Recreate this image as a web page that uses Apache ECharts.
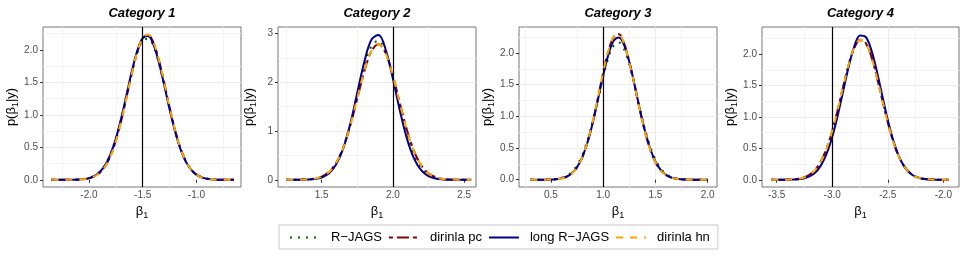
<!DOCTYPE html>
<html><head><meta charset="utf-8">
<script src="https://cdn.jsdelivr.net/npm/echarts@6/dist/echarts.min.js"></script>
<style>html,body{margin:0;padding:0;background:#fff}#c{width:969px;height:259px}</style>
</head><body><div id="c"></div>
<script>
// ---------- data ----------
const categories = ['Category 1', 'Category 2', 'Category 3', 'Category 4'];
const seriesNames = ['R\u2212JAGS', 'dirinla pc', 'long R\u2212JAGS', 'dirinla hn'];
const trueValues = [-1.5, 2.0, 1.0, -3.0];

const xTicks1 = [-2.0, -1.5, -1.0];
const xTicks2 = [1.5, 2.0, 2.5];
const xTicks3 = [0.5, 1.0, 1.5, 2.0];
const xTicks4 = [-3.5, -3.0, -2.5, -2.0];
const yTicks1 = [0, 0.5, 1.0, 1.5, 2.0];
const yTicks2 = [0, 1, 2, 3];
const yTicks3 = [0, 0.5, 1.0, 1.5, 2.0];
const yTicks4 = [0, 0.5, 1.0, 1.5, 2.0];

// Category 1
const x1 = [-2.35,-2.30,-2.25,-2.20,-2.15,-2.10,-2.05,-2.00,-1.95,-1.90,-1.85,-1.80,-1.75,-1.70,-1.65,-1.60,-1.55,-1.50,-1.45,-1.40,-1.35,-1.30,-1.25,-1.20,-1.15,-1.10,-1.05,-1.00,-0.95,-0.90,-0.85,-0.80,-0.75,-0.70,-0.65];
const rjags1 = [0,0,0,0.001,0.002,0.005,0.012,0.029,0.062,0.124,0.231,0.398,0.636,0.944,1.300,1.660,1.960,2.140,2.168,2.060,1.800,1.462,1.098,0.764,0.492,0.295,0.162,0.083,0.039,0.017,0.007,0.002,0.001,0,0];
const pc1 = [0,0,0,0,0.001,0.003,0.009,0.023,0.053,0.109,0.207,0.367,0.600,0.909,1.272,1.646,1.968,2.177,2.226,2.108,1.846,1.494,1.118,0.773,0.493,0.292,0.160,0.081,0.038,0.016,0.006,0.002,0.001,0,0];
const long1 = [0,0,0,0.001,0.002,0.004,0.011,0.027,0.059,0.120,0.226,0.393,0.634,0.947,1.309,1.676,1.986,2.178,2.212,2.080,1.810,1.458,1.088,0.751,0.480,0.284,0.156,0.079,0.037,0.016,0.006,0.002,0.001,0,0];
const hn1 = [0,0,0,0,0.001,0.003,0.009,0.022,0.051,0.106,0.203,0.362,0.594,0.903,1.267,1.644,1.971,2.184,2.236,2.116,1.851,1.495,1.117,0.771,0.491,0.290,0.158,0.079,0.037,0.016,0.006,0.002,0.001,0,0];

// Category 2
const x2 = [1.25,1.30,1.35,1.40,1.45,1.50,1.55,1.60,1.65,1.70,1.75,1.80,1.85,1.90,1.95,2.00,2.05,2.10,2.15,2.20,2.25,2.30,2.35,2.40,2.45,2.50,2.55];
const rjags2 = [0,0.001,0.002,0.006,0.020,0.057,0.147,0.329,0.651,1.131,1.728,2.323,2.745,2.853,2.607,2.095,1.481,0.921,0.504,0.242,0.102,0.038,0.012,0.004,0.001,0,0];
const pc2 = [0,0.001,0.003,0.008,0.024,0.065,0.158,0.340,0.650,1.103,1.664,2.224,2.640,2.776,2.588,2.135,1.560,1.008,0.577,0.293,0.131,0.053,0.018,0.006,0.002,0.001,0];
const long2 = [0,0,0.001,0.004,0.015,0.047,0.129,0.306,0.632,1.137,1.781,2.425,2.874,2.964,2.658,2.075,1.409,0.833,0.428,0.191,0.074,0.025,0.007,0.002,0,0,0];
const hn2 = [0,0.001,0.002,0.007,0.023,0.063,0.155,0.336,0.647,1.104,1.669,2.233,2.647,2.778,2.583,2.127,1.552,1.002,0.573,0.291,0.130,0.052,0.018,0.006,0.002,0,0];

// Category 3
const x3 = [0.30,0.35,0.40,0.45,0.50,0.55,0.60,0.65,0.70,0.75,0.80,0.85,0.90,0.95,1.00,1.05,1.10,1.15,1.20,1.25,1.30,1.35,1.40,1.45,1.50,1.55,1.60,1.65,1.70,1.75,1.80,1.85,1.90,1.95,2.00];
const rjags3 = [0,0,0.001,0.002,0.005,0.013,0.029,0.062,0.124,0.229,0.392,0.625,0.925,1.272,1.623,1.925,2.119,2.167,2.057,1.815,1.485,1.129,0.797,0.523,0.318,0.180,0.095,0.046,0.021,0.009,0.003,0.001,0,0,0];
const pc3 = [0,0,0,0.001,0.003,0.008,0.021,0.047,0.100,0.197,0.356,0.594,0.914,1.296,1.692,2.034,2.252,2.296,2.152,1.856,1.494,1.102,0.752,0.474,0.276,0.148,0.073,0.033,0.014,0.005,0.002,0.001,0,0,0];
const long3 = [0,0,0,0.001,0.003,0.009,0.022,0.049,0.103,0.200,0.358,0.590,0.900,1.267,1.647,1.978,2.193,2.246,2.125,1.857,1.498,1.116,0.768,0.488,0.287,0.155,0.078,0.036,0.015,0.006,0.002,0.001,0,0,0];
const hn3 = [0,0,0,0.001,0.003,0.008,0.020,0.046,0.099,0.196,0.357,0.597,0.920,1.303,1.699,2.040,2.254,2.292,2.144,1.846,1.490,1.100,0.752,0.474,0.276,0.148,0.073,0.033,0.014,0.005,0.002,0.001,0,0,0];

// Category 4
const x4 = [-3.55,-3.50,-3.45,-3.40,-3.35,-3.30,-3.25,-3.20,-3.15,-3.10,-3.05,-3.00,-2.95,-2.90,-2.85,-2.80,-2.75,-2.70,-2.65,-2.60,-2.55,-2.50,-2.45,-2.40,-2.35,-2.30,-2.25,-2.20,-2.15,-2.10,-2.05,-2.00,-1.95];
const rjags4 = [0,0,0.001,0.002,0.006,0.016,0.036,0.079,0.157,0.290,0.492,0.772,1.118,1.494,1.846,2.110,2.230,2.180,1.972,1.650,1.280,0.918,0.608,0.372,0.210,0.109,0.052,0.023,0.009,0.003,0.001,0,0];
const pc4 = [0,0,0.001,0.003,0.008,0.018,0.040,0.085,0.165,0.299,0.500,0.776,1.116,1.488,1.838,2.101,2.223,2.176,1.970,1.648,1.276,0.913,0.604,0.370,0.210,0.110,0.053,0.024,0.010,0.004,0.001,0,0];
const long4 = [0,0,0,0.001,0.004,0.010,0.025,0.057,0.120,0.233,0.415,0.681,1.026,1.423,1.814,2.128,2.295,2.275,2.075,1.740,1.342,0.951,0.621,0.372,0.205,0.104,0.049,0.021,0.008,0.003,0.001,0,0];
const hn4 = [0,0,0.001,0.002,0.007,0.017,0.038,0.082,0.161,0.295,0.497,0.776,1.120,1.495,1.846,2.108,2.226,2.175,1.965,1.641,1.269,0.907,0.599,0.366,0.207,0.108,0.052,0.023,0.010,0.004,0.001,0,0];

// ---------- layout / styles ----------
const FONT = '"Liberation Sans", Arial, Helvetica, sans-serif';
const gridLeft = [43, 278, 519, 762];
const gridW = [198, 198, 198, 197];
const gridTop = 27, gridH = 160;

const panels = [
  {x: x1, ys: [rjags1, pc1, long1, hn1], xTicks: xTicks1, yTicks: yTicks1, xr: [-2.428, -0.585], yr: [-0.11, 2.35], yStep: 0.5, yDec: 1},
  {x: x2, ys: [rjags2, pc2, long2, hn2], xTicks: xTicks2, yTicks: yTicks2, xr: [1.193, 2.584], yr: [-0.148, 3.13], yStep: 1, yDec: 0},
  {x: x3, ys: [rjags3, pc3, long3, hn3], xTicks: xTicks3, yTicks: yTicks3, xr: [0.194, 2.089], yr: [-0.115, 2.41], yStep: 0.5, yDec: 1},
  {x: x4, ys: [rjags4, pc4, long4, hn4], xTicks: xTicks4, yTicks: yTicks4, xr: [-3.632, -1.859], yr: [-0.115, 2.43], yStep: 0.5, yDec: 1}
];

const lineStyles = [
  {color: '#006400', width: 2, type: [2, 6]},
  {color: '#8B0000', width: 2, type: [4, 4, 12, 4]},
  {color: '#00008B', width: 2, type: 'solid'},
  {color: '#FFA500', width: 2, type: [7, 7]}
];

const richName = {
  n: {fontSize: 13, lineHeight: 13, verticalAlign: 'top', color: '#000', fontFamily: FONT},
  s: {fontSize: 9, lineHeight: 9, padding: [6, 0, 0, 0], verticalAlign: 'top', color: '#000', fontFamily: FONT}
};

const grids = [], xAxes = [], yAxes = [], titles = [], series = [];
panels.forEach((p, i) => {
  grids.push({left: gridLeft[i], top: gridTop, width: gridW[i], height: gridH,
    show: true, borderColor: '#777', borderWidth: 1, backgroundColor: 'transparent',
    containLabel: false, outerBoundsMode: 'none'});
  titles.push({text: categories[i], left: gridLeft[i] + gridW[i] / 2, top: 7, textAlign: 'center', padding: 0,
    textStyle: {fontSize: 13, fontWeight: 'bold', fontStyle: 'italic', color: '#000', fontFamily: FONT}});
  xAxes.push({
    gridIndex: i, type: 'value', min: p.xr[0], max: p.xr[1],
    splitNumber: 3, minInterval: 0.5, maxInterval: 0.5,
    axisLine: {show: false},
    axisTick: {show: true, length: 3, inside: false, customValues: p.xTicks, lineStyle: {color: '#333', width: 1}},
    axisLabel: {show: true, customValues: p.xTicks, margin: 3, fontSize: 10, color: '#4d4d4d', fontFamily: FONT,
      formatter: v => Number(v).toFixed(1)},
    splitLine: {show: true, showMinLine: false, showMaxLine: false, lineStyle: {color: '#ebebeb', width: 1}},
    minorTick: {show: false, splitNumber: 2},
    minorSplitLine: {show: true, lineStyle: {color: '#f3f3f3', width: 1}},
    name: '{n|\u03b2}{s|1}', nameLocation: 'middle', nameGap: 9,
    nameTextStyle: {rich: richName}
  });
  yAxes.push({
    gridIndex: i, type: 'value', min: p.yr[0], max: p.yr[1],
    splitNumber: 4, minInterval: p.yStep, maxInterval: p.yStep,
    axisLine: {show: false},
    axisTick: {show: true, length: 3, inside: false, customValues: p.yTicks, lineStyle: {color: '#333', width: 1}},
    axisLabel: {show: true, customValues: p.yTicks, margin: 5, fontSize: 10, color: '#4d4d4d', fontFamily: FONT,
      formatter: (v => Number(v).toFixed(p.yDec))},
    splitLine: {show: true, showMinLine: false, showMaxLine: false, lineStyle: {color: '#ebebeb', width: 1}},
    minorTick: {show: false, splitNumber: 2},
    minorSplitLine: {show: true, lineStyle: {color: '#f3f3f3', width: 1}},
    name: '{n|p(\u03b2}{s|1}{n||y)}', nameLocation: 'middle', nameGap: 22,
    nameTextStyle: {rich: richName}
  });
  p.ys.forEach((ys, k) => {
    const s = {
      name: seriesNames[k], type: 'line', xAxisIndex: i, yAxisIndex: i,
      data: p.x.map((xv, j) => [xv, ys[j]]),
      symbol: 'none', showSymbol: false, smooth: 0.35, silent: true,
      lineStyle: {color: lineStyles[k].color, width: lineStyles[k].width, type: lineStyles[k].type, cap: 'butt'},
      itemStyle: {color: lineStyles[k].color},
      z: 2 + k
    };
    if (k === 3) {
      s.markLine = {silent: true, symbol: ['none', 'none'], label: {show: false},
        lineStyle: {color: '#000', width: 1.2, type: 'solid'}, animation: false,
        data: [{xAxis: trueValues[i]}]};
    }
    series.push(s);
  });
});

const chart = echarts.init(document.getElementById('c'), null, {renderer: 'canvas'});
chart.setOption({
  animation: false,
  backgroundColor: '#fff',
  title: titles,
  grid: grids,
  xAxis: xAxes,
  yAxis: yAxes,
  legend: {
    data: seriesNames, left: 279, top: 225, orient: 'horizontal',
    itemWidth: 30, itemHeight: 14, itemGap: 6,
    padding: [6, 8, 5, 10], borderColor: '#c8c8c8', borderWidth: 1,
    selectedMode: false,
    itemStyle: {opacity: 0},
    textStyle: {fontSize: 13, color: '#000', fontFamily: FONT, padding: [0, 0, 0, 6]}
  },
  series: series
});
</script></body></html>
